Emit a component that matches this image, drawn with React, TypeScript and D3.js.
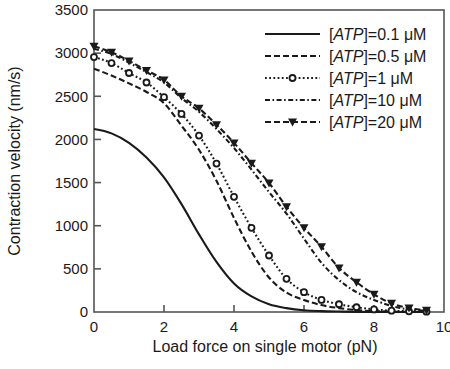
import React from 'react'
import * as d3 from 'd3'

// load force on a single motor (pN)
const force = [0, 0.5, 1, 1.5, 2, 2.5, 3, 3.5, 4, 4.5, 5, 5.5, 6, 6.5, 7, 7.5, 8, 8.5, 9, 9.5]

// contraction velocity (nm/s) for each [ATP]
const atp01 = [2120, 2070, 1960, 1790, 1560, 1250, 900, 580, 330, 180, 90, 45, 20, 10, 5, 2, 0, 0, 0, 0]
const atp05 = [2820, 2740, 2650, 2550, 2420, 2160, 1880, 1520, 1090, 700, 400, 225, 140, 80, 45, 22, 10, 5, 2, 1]
const atp1 = [2955, 2885, 2770, 2660, 2490, 2295, 2045, 1720, 1335, 975, 655, 385, 230, 140, 90, 55, 30, 15, 8, 4]
const atp10 = [3050, 2990, 2890, 2780, 2660, 2480, 2320, 2120, 1900, 1650, 1390, 1140, 850, 570, 370, 230, 140, 70, 30, 15]
const atp20 = [3080, 3010, 2910, 2800, 2690, 2500, 2360, 2170, 1960, 1725, 1495, 1220, 975, 755, 510, 345, 205, 100, 45, 20]

const xTicks = [0, 2, 4, 6, 8, 10]
const yTicks = [0, 500, 1000, 1500, 2000, 2500, 3000, 3500]

const series = [
  { conc: '0.1', values: atp01, dash: null, marker: null },
  { conc: '0.5', values: atp05, dash: '6,3', marker: null },
  { conc: '1', values: atp1, dash: '1.8,2.4', marker: 'circle' },
  { conc: '10', values: atp10, dash: '5,2.5,1.6,2.5', marker: null },
  { conc: '20', values: atp20, dash: '6,3', marker: 'triangle' },
]

const W = 450
const H = 369
const m = { l: 94, r: 444, t: 10, b: 312 }
const font = 'Liberation Sans, Arial, sans-serif'
const ink = '#1a1a1a'
const axisCol = '#555'

const Marker = ({ type, x, y }: { type: string | null; x: number; y: number }) => {
  if (type === 'circle')
    return <circle cx={x} cy={y} r={3} fill='#fff' stroke={ink} strokeWidth={1.8} />
  if (type === 'triangle')
    return <path d={`M${x - 4.5},${y - 3.5} L${x + 4.5},${y - 3.5} L${x},${y + 4.5} Z`} fill={ink} />
  return null
}

const App = () => {
  const x = d3.scaleLinear().domain([0, 10]).range([m.l, m.r])
  const y = d3.scaleLinear().domain([0, 3500]).range([m.b, m.t])
  const lineGen = d3
    .line<number>()
    .x((_, i) => x(force[i]))
    .y(d => y(d))
    .curve(d3.curveMonotoneX)

  const legX0 = 265
  const legX1 = 320
  const legY = 34
  const legStep = 22

  return (
    <svg width={W} height={H} style={{ position: 'absolute', left: 0, top: 0 }} fontFamily={font}>
      <rect x={0} y={0} width={W} height={H} fill='#fff' />
      {/* frame */}
      <rect x={m.l} y={m.t} width={m.r - m.l} height={m.b - m.t} fill='none' stroke={axisCol} strokeWidth={1.6} />

      {/* y axis */}
      {yTicks.map(t => (
        <g key={t}>
          {t > 0 && t < 3500 && <line x1={m.l} x2={m.l + 7} y1={y(t)} y2={y(t)} stroke={axisCol} strokeWidth={1.6} />}
          <text x={m.l - 6} y={y(t)} dy='0.35em' textAnchor='end' fontSize={15} fill={ink}>{t}</text>
        </g>
      ))}
      {/* x axis */}
      {xTicks.map(t => (
        <g key={t}>
          {t > 0 && t < 10 && <line x1={x(t)} x2={x(t)} y1={m.b} y2={m.b - 7} stroke={axisCol} strokeWidth={1.6} />}
          <text x={x(t)} y={m.b + 15} dy='0.35em' textAnchor='middle' fontSize={15} fill={ink}>{t}</text>
        </g>
      ))}
      <text x={265} y={352} textAnchor='middle' fontSize={16} fill={ink}>Load force on single motor (pN)</text>
      <text transform={`translate(20,${(m.t + m.b) / 2}) rotate(-90)`} textAnchor='middle' fontSize={16} fill={ink}>
        Contraction velocity (nm/s)
      </text>

      {/* curves */}
      {series.map(s => (
        <g key={s.conc}>
          <path d={lineGen(s.values) || ''} fill='none' stroke={ink} strokeWidth={2.1} strokeDasharray={s.dash || undefined} />
          {s.marker && s.values.map((v, i) => <Marker key={i} type={s.marker} x={x(force[i])} y={y(v)} />)}
        </g>
      ))}

      {/* legend */}
      {series.map((s, i) => {
        const ly = legY + i * legStep
        return (
          <g key={'leg' + s.conc}>
            <line x1={legX0} x2={legX1} y1={ly} y2={ly} stroke={ink} strokeWidth={2.1} strokeDasharray={s.dash || undefined} />
            <Marker type={s.marker} x={(legX0 + legX1) / 2} y={ly} />
            <text x={329} y={ly} dy='0.35em' fontSize={16} fill={ink}>
              [<tspan fontStyle='italic'>ATP</tspan>]={s.conc} μM
            </text>
          </g>
        )
      })}
    </svg>
  )
}

export default App
